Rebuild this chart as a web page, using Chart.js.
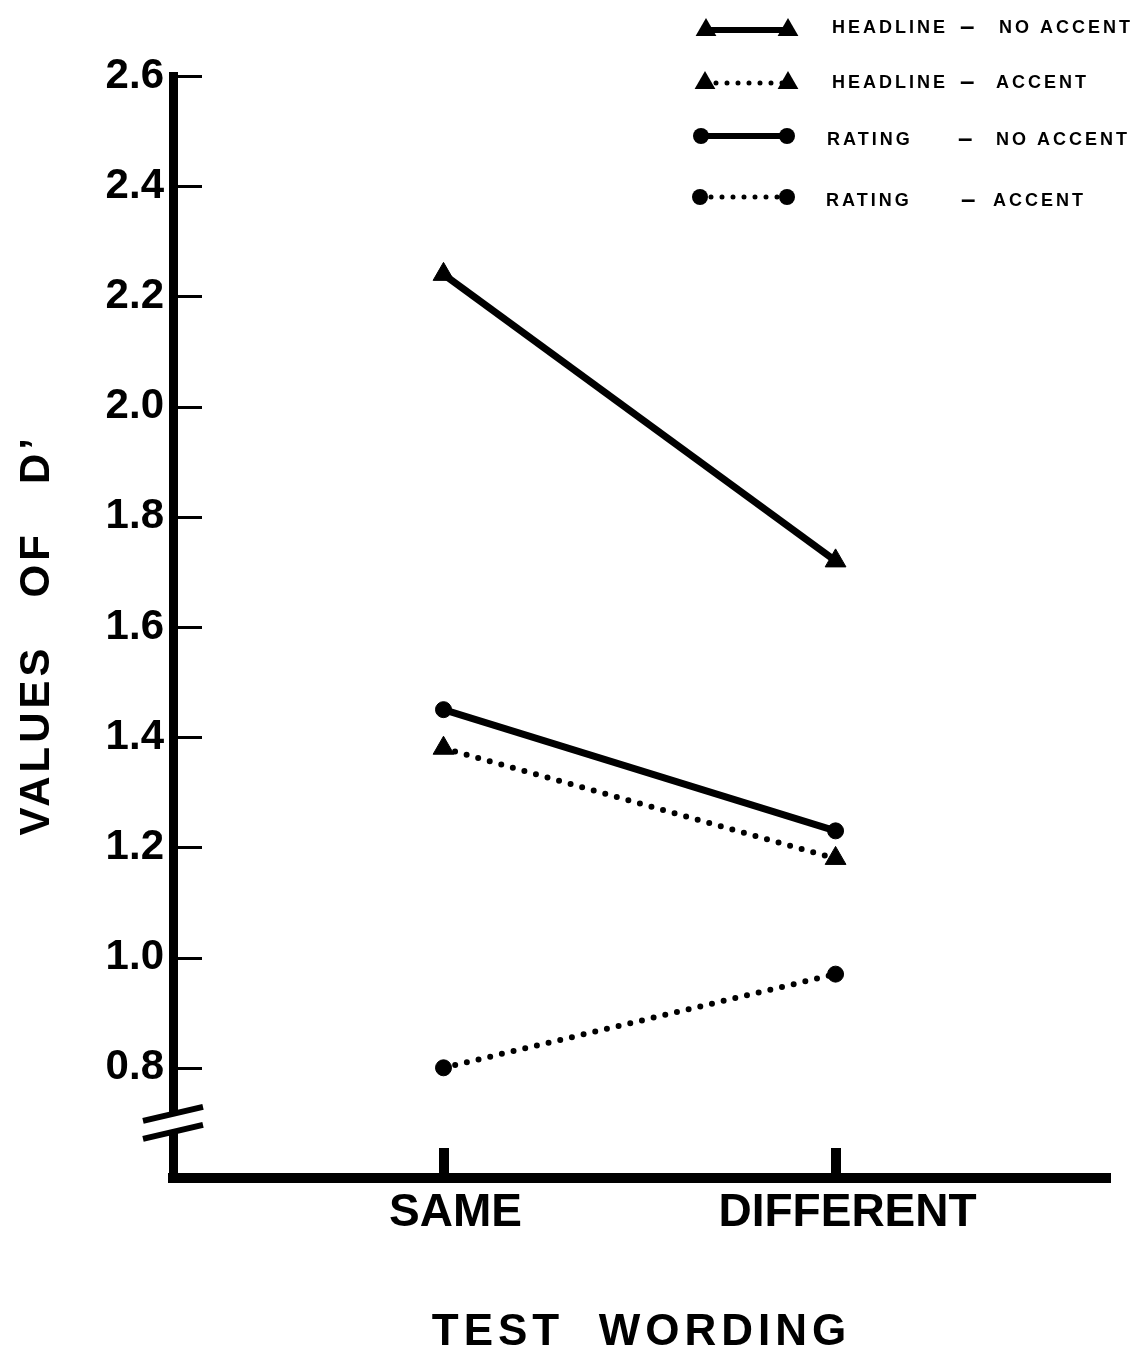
<!DOCTYPE html>
<html>
<head>
<meta charset="utf-8">
<script src="https://cdn.jsdelivr.net/npm/chart.js@4.4.1/dist/chart.umd.min.js"></script>
<style>
html,body{margin:0;padding:0;background:#fff;}
canvas{display:block;}
</style>
</head>
<body>
<canvas id="c" width="1147" height="1355"></canvas>
<script>
// ---- data ----
const categories = ['SAME', 'DIFFERENT'];
const headlineNoAccent = [2.24, 1.72];
const headlineAccent = [1.38, 1.18];
const ratingNoAccent = [1.45, 1.23];
const ratingAccent = [0.80, 0.97];
const seriesNames = [
  ['HEADLINE', 'NO ACCENT'],
  ['HEADLINE', 'ACCENT'],
  ['RATING', 'NO ACCENT'],
  ['RATING', 'ACCENT']
];
const yTickLabels = ['0.8', '1.0', '1.2', '1.4', '1.6', '1.8', '2.0', '2.2', '2.4', '2.6'];
const yTitle = 'VALUES   OF   D\u2019 ';
const xTitle = 'TEST  WORDING';

// ---- styling ----
const INK = '#000000';
const FONT = "'Liberation Sans', Arial, Helvetica, sans-serif";
Chart.defaults.font.family = FONT;
Chart.defaults.color = INK;

function pts(vals) {
  return categories.map((c, i) => ({ x: i, y: vals[i] }));
}

function lineSet(name, vals, style, dotted) {
  return {
    label: name.join(' - '),
    data: pts(vals),
    borderColor: INK,
    backgroundColor: INK,
    borderWidth: dotted ? 6 : 7,
    borderDash: dotted ? [0, 12] : [],
    borderCapStyle: dotted ? 'round' : 'butt',
    pointStyle: style,
    pointRadius: style === 'triangle' ? 12 : 8,
    pointHoverRadius: style === 'triangle' ? 12 : 8,
    pointBorderWidth: 1,
    pointBorderColor: INK,
    pointBackgroundColor: INK,
    tension: 0,
    clip: false
  };
}

const datasets = [
  lineSet(seriesNames[0], headlineNoAccent, 'triangle', false),
  lineSet(seriesNames[1], headlineAccent, 'triangle', true),
  lineSet(seriesNames[2], ratingNoAccent, 'circle', false),
  lineSet(seriesNames[3], ratingAccent, 'circle', true)
];

function drawMarker(ctx, style, r, x, y) {
  ctx.beginPath();
  if (style === 'triangle') {
    let rad = 0;
    ctx.moveTo(x + Math.sin(rad) * r, y - Math.cos(rad) * r);
    rad += 2 * Math.PI / 3;
    ctx.lineTo(x + Math.sin(rad) * r, y - Math.cos(rad) * r);
    rad += 2 * Math.PI / 3;
    ctx.lineTo(x + Math.sin(rad) * r, y - Math.cos(rad) * r);
    ctx.closePath();
  } else {
    ctx.arc(x, y, r, 0, Math.PI * 2);
  }
  ctx.fill();
}

// custom legend (sample line with marker at each end + spaced text)
const legendPlugin = {
  id: 'sampleLegend',
  afterDraw(chart) {
    const ctx = chart.ctx;
    const rows = [
      { y: 30, ty: 28, x1: 706, x2: 788, nx: 832, dx: 960, vx: 999 },
      { y: 83, ty: 83, x1: 705, x2: 788, nx: 832, dx: 960, vx: 996 },
      { y: 136, ty: 140, x1: 701, x2: 787, nx: 827, dx: 958, vx: 996 },
      { y: 197, ty: 201, x1: 700, x2: 787, nx: 826, dx: 961, vx: 993 }
    ];
    chart.data.datasets.forEach((ds, i) => {
      const r = rows[i];
      ctx.save();
      ctx.strokeStyle = INK;
      ctx.fillStyle = INK;
      ctx.lineWidth = ds.borderDash.length ? 5 : 6;
      ctx.lineCap = ds.borderCapStyle;
      ctx.setLineDash(ds.borderDash.length ? [0, 11] : []);
      ctx.beginPath();
      ctx.moveTo(r.x1, r.y);
      ctx.lineTo(r.x2, r.y);
      ctx.stroke();
      ctx.setLineDash([]);
      const mr = ds.pointStyle === 'triangle' ? 12 : 8;
      drawMarker(ctx, ds.pointStyle, mr, r.x1, r.y);
      drawMarker(ctx, ds.pointStyle, mr, r.x2, r.y);
      ctx.textBaseline = 'middle';
      ctx.textAlign = 'left';
      ctx.font = 'bold 18px ' + FONT;
      try { ctx.letterSpacing = '3px'; } catch (e) {}
      ctx.fillText(seriesNames[i][0], r.nx, r.ty);
      ctx.fillText(seriesNames[i][1], r.vx, r.ty);
      ctx.font = 'bold 26px ' + FONT;
      try { ctx.letterSpacing = '0px'; } catch (e) {}
      ctx.fillText('\u2013', r.dx, r.ty);
      ctx.restore();
    });
  }
};

// inward tick marks, category marks and axis break
const axisMarks = {
  id: 'axisMarks',
  beforeDraw(chart) {
    ['x', 'y'].forEach(id => {
      const s = chart.scales[id];
      if (s && !s._lsPatched) {
        const orig = s.drawTitle;
        s.drawTitle = function () {
          const c = this.ctx;
          c.save();
          try { c.letterSpacing = id === 'x' ? '5px' : '4px'; } catch (e) {}
          orig.apply(this, arguments);
          c.restore();
        };
        s._lsPatched = true;
      }
    });
  },
  afterDraw(chart) {
    const { ctx, chartArea, scales: { x, y } } = chart;
    const left = chartArea.left, bottom = chartArea.bottom;
    ctx.save();
    ctx.strokeStyle = INK;
    ctx.fillStyle = INK;
    ctx.lineWidth = 3;
    ctx.lineCap = 'butt';
    y.ticks.forEach(t => {
      const py = Math.round(y.getPixelForValue(t.value)) + 0.5;
      ctx.beginPath();
      ctx.moveTo(left, py);
      ctx.lineTo(left + 29, py);
      ctx.stroke();
    });
    x.ticks.forEach(t => {
      const px = x.getPixelForValue(t.value);
      ctx.fillRect(Math.round(px) - 5, bottom - 30, 10, 28);
    });
    // axis break
    const cy = y.getPixelForValue(0.7);
    const gap = 9, half = 30, tilt = 7;
    ctx.fillStyle = '#ffffff';
    ctx.beginPath();
    ctx.moveTo(left - 8, cy - gap + tilt * 8 / half);
    ctx.lineTo(left + 8, cy - gap - tilt * 8 / half);
    ctx.lineTo(left + 8, cy + gap - tilt * 8 / half);
    ctx.lineTo(left - 8, cy + gap + tilt * 8 / half);
    ctx.closePath();
    ctx.fill();
    ctx.strokeStyle = INK;
    ctx.lineWidth = 6;
    [-gap, gap].forEach(d => {
      ctx.beginPath();
      ctx.moveTo(left - half, cy + d + tilt);
      ctx.lineTo(left + half, cy + d - tilt);
      ctx.stroke();
    });
    ctx.restore();
  }
};

new Chart(document.getElementById('c'), {
  type: 'line',
  data: { datasets },
  options: {
    responsive: false,
    animation: false,
    events: [],
    layout: { padding: { top: 76, right: 37, left: 0, bottom: 0 } },
    plugins: {
      legend: { display: false },
      tooltip: { enabled: false }
    },
    scales: {
      x: {
        type: 'linear',
        min: -0.69,
        max: 1.70,
        afterBuildTicks: s => { s.ticks = categories.map((c, i) => ({ value: i })); },
        afterFit: s => { s.height = 177; },
        grid: { display: false, drawTicks: false },
        border: { display: true, color: INK, width: 10 },
        ticks: {
          autoSkip: false,
          maxRotation: 0,
          padding: 8,
          labelOffset: 12,
          color: INK,
          font: { size: 46, weight: 'bold' },
          callback: v => categories[v] !== undefined ? categories[v] : ''
        },
        title: {
          display: true,
          text: xTitle,
          color: INK,
          font: { size: 44, weight: 'bold', lineHeight: 1 },
          padding: { top: 0, bottom: 0 }
        }
      },
      y: {
        type: 'linear',
        min: 0.6,
        max: 2.6,
        afterBuildTicks: s => { s.ticks = yTickLabels.map(t => ({ value: parseFloat(t) })); },
        afterFit: s => { s.width = 173; },
        grid: { display: false, drawTicks: false },
        border: { display: true, color: INK, width: 9 },
        ticks: {
          padding: 9,
          color: INK,
          font: { size: 42, weight: 'bold' },
          callback: v => {
            const t = yTickLabels.find(l => Math.abs(parseFloat(l) - v) < 1e-6);
            return t !== undefined ? t : '';
          }
        },
        title: {
          display: true,
          text: yTitle,
          color: INK,
          font: { size: 42, weight: 'bold', lineHeight: 1 },
          padding: { top: 16, bottom: 0 }
        }
      }
    }
  },
  plugins: [axisMarks, legendPlugin]
});
</script>
</body>
</html>
